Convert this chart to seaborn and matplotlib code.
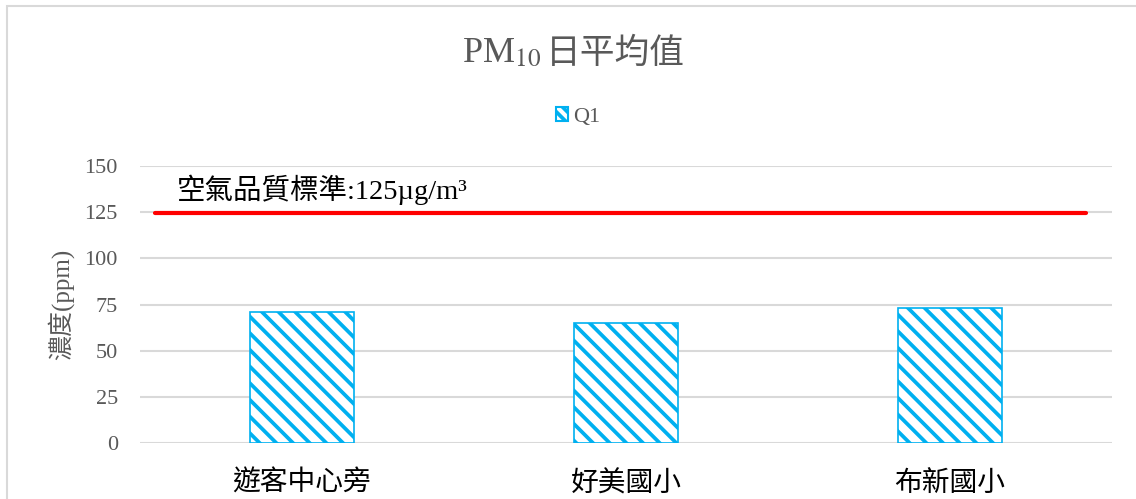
import numpy as np
import pandas as pd
import seaborn as sns
import matplotlib.pyplot as plt
from matplotlib.patches import Patch, Rectangle

sites = ['遊客中心旁', '好美國小', '布新國小']
q1_values = [71, 65, 73]
standard = 124.5
yticks = [0, 25, 50, 75, 100, 125, 150]

sns.set_style('white')
plt.rcParams['font.family'] = ['Liberation Serif', 'Noto Sans CJK TC', 'DejaVu Sans']
plt.rcParams['mathtext.fontset'] = 'stix'
plt.rcParams['hatch.linewidth'] = 2.7

blue = '#00b0f0'
gray = '#595959'
grid = '#d9d9d9'

df = pd.DataFrame({'site': sites, 'value': q1_values, 'quarter': 'Q1'})

fig = plt.figure(figsize=(11.36, 4.99), dpi=100)
ax = fig.add_axes([140/1136, 1-443/499, 972/1136, 277/499])

sns.barplot(data=df, x='site', y='value', color='white', edgecolor=blue,
            linewidth=1.2, width=0.318, ax=ax)
for p in ax.patches:
    p.set_hatch('\\\\')

ax.set_ylim(0, 150)
ax.set_yticks(yticks)
ax.set_xlim(-0.5, 2.5)
for y in yticks:
    ax.axhline(y, color=grid, lw=1.5, zorder=0)
for s in ax.spines.values():
    s.set_visible(False)

ax.axhline(standard, xmin=0.015, xmax=0.973, color='red', lw=3, zorder=3)
ax.text(-0.385, 137, '空氣品質標準:125µg/m³', fontsize=20.5, color='black', va='center')

ax.tick_params(axis='y', length=0, pad=16, labelsize=16, labelcolor=gray)
ax.tick_params(axis='x', length=0, pad=20, labelsize=20, labelcolor='black')
ax.set_xlabel('')
ax.set_ylabel('濃度(ppm)', fontsize=18, color=gray)
ax.yaxis.set_label_coords(-66/972, 0.5)

# title in two pieces so the CJK part keeps its font fallback
fig.text(541/1136, 1-62/499, 'PM$_{10}$', fontsize=26, color=gray,
         ha='right', va='baseline')
fig.text(546/1136, 1-63/499, '日平均值', fontsize=25, color=gray,
         ha='left', va='baseline')

handle = Patch(facecolor='white', edgecolor=blue, hatch='\\\\\\', linewidth=1.5)
fig.legend(handles=[handle], labels=['Q1'], loc='center', frameon=False,
           bbox_to_anchor=(578/1136, 1-117/499), fontsize=16, labelcolor=gray,
           handlelength=0.55, handleheight=0.55, handletextpad=0.2)

fig.patches.append(Rectangle((7/1136, -0.1), 1.2, 1.1-6/499, transform=fig.transFigure,
                             fill=False, edgecolor=grid, lw=1.5))

fig.savefig('out.png', dpi=100)
